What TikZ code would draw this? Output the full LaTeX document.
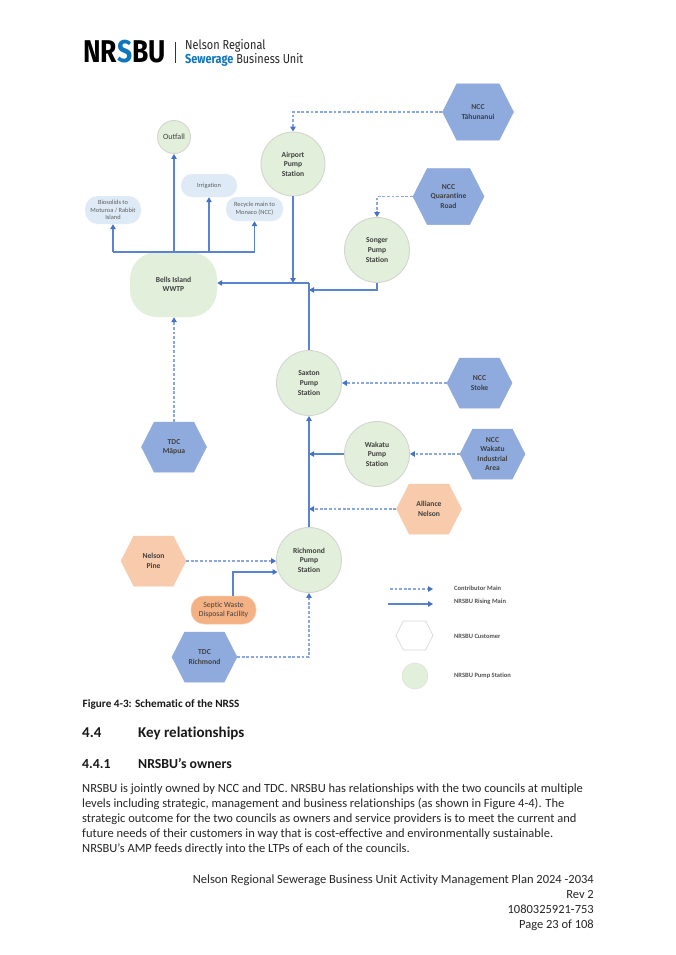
\documentclass[tikz,border=0pt]{standalone}
\usepackage{fontspec}
\setmainfont[Ligatures=NoCommon]{Carlito}
\newfontfamily\logofont{Fira Sans}
\usetikzlibrary{shapes.symbols,arrows.meta}
\definecolor{pipe}{HTML}{4472C4}
\definecolor{pipemid}{HTML}{5B84D0}
\definecolor{pipelt}{HTML}{8AA8E0}
\definecolor{stationfill}{HTML}{E2EFDA}
\definecolor{stationedge}{HTML}{D3D6D0}
\definecolor{councilfill}{HTML}{8FAADC}
\definecolor{orangefill}{HTML}{F8CBAD}
\definecolor{septicfill}{HTML}{F4B183}
\definecolor{paleblue}{HTML}{DEEBF7}
\definecolor{ink}{HTML}{404040}
\definecolor{brandblue}{HTML}{0F75BC}
\tikzset{
 x=1pt,y=-1pt,
 labelfont/.style={font=\fontsize{7.6}{9.6}\selectfont\bfseries,text=ink,align=center},
 station/.style={circle,draw=stationedge,line width=.9pt,fill=stationfill,minimum size=#1,inner sep=0pt,labelfont},
 hexa/.style args={#1/#2/#3}{signal,signal to=east and west,signal pointer angle=126,draw=#3,fill=#3,line width=.5pt,minimum width=#1,minimum height=#2,inner sep=0pt,labelfont},
 council/.style={hexa={65pt/50pt/councilfill}},
 bigcouncil/.style={hexa={71pt/56pt/councilfill}},
 trade/.style={hexa={65pt/50pt/orangefill}},
 pale/.style={rounded corners=11pt,fill=paleblue,inner sep=0pt,font=\fontsize{6.4}{7.7}\selectfont,text=ink!85,align=center},
 rising/.style={draw=pipemid,line width=1.05pt,-{Triangle[length=5pt,width=5.5pt,color=pipe,fill=pipe]}},
 risingplain/.style={draw=pipemid,line width=1.05pt},
 contrib/.style={draw=pipelt,line width=1.1pt,dash pattern=on 2.8pt off 1.8pt,-{Triangle[length=5pt,width=5.5pt,color=pipe,fill=pipe]}},
 legendtext/.style={anchor=west,font=\fontsize{6.5}{7.5}\selectfont\bfseries,text=ink!90,inner sep=0pt},
 bodyline/.style={anchor=base west,font=\fontsize{12.5}{15}\selectfont,text=black!85,inner sep=0pt},
 footline/.style={anchor=base east,font=\fontsize{12.5}{15}\selectfont,text=black!85,inner sep=0pt},
 capline/.style={anchor=base west,font=\fontsize{11.2}{13}\selectfont\bfseries,text=black!90,inner sep=0pt},
 headone/.style={anchor=base west,font=\fontsize{15}{18}\selectfont\bfseries,text=black!90,inner sep=0pt},
 headtwo/.style={anchor=base west,font=\fontsize{13.8}{16}\selectfont\bfseries,text=black!90,inner sep=0pt},
 logotext/.style={anchor=base west,inner sep=0pt,text=black!85,font=\logofont\fontsize{13}{14}\selectfont},
}
\begin{document}
\begin{tikzpicture}
\useasboundingbox[fill=white] (0,0) rectangle (675,955);
% logo
\node[anchor=base west,inner sep=0pt,font=\logofont\fontsize{31.5}{32}\selectfont\bfseries] (logo) at (83,63) {\scalebox{.84}[1]{NR\textcolor{brandblue}{S}BU}};
\coordinate (bartop) at (175,42);
\coordinate (barbot) at (175,63);
\draw[line width=.8pt,black!80] (bartop) -- (barbot);
\node[logotext] (logoa) at (185,50) {\scalebox{.84}[1]{Nelson Regional}};
\node[logotext] (logob) at (185,63.3) {\scalebox{.84}[1]{\textcolor{brandblue}{\bfseries Sewerage} Business Unit}};
% stations
\node[station=33pt,font=\fontsize{8}{9}\selectfont] (outfall) at (174,137) {Outfall};
\node[station=64pt] (airport) at (293,164) {Airport\\Pump\\Station};
\node[station=65pt] (songer) at (377,250) {Songer\\Pump\\Station};
\node[station=65pt] (saxton) at (309,383) {Saxton\\Pump\\Station};
\node[station=65pt] (wakatu) at (377,454) {Wakatu\\Pump\\Station};
\node[station=65pt] (richmond) at (309,560) {Richmond\\Pump\\Station};
\node[rounded corners=27pt,fill=stationfill,minimum width=87pt,minimum height=65pt,inner sep=0pt,labelfont] (bells) at (173.5,284.5) {Bells Island\\WWTP};
% destinations
\node[pale,minimum width=56pt,minimum height=23pt] (irrigation) at (209,185.5) {Irrigation};
\node[pale,minimum width=56pt,minimum height=28pt,rounded corners=13pt] (biosolids) at (113,210) {Biosolids to\\Moturoa / Rabbit\\Island};
\node[pale,minimum width=57pt,minimum height=24pt] (recycle) at (254.5,209) {Recycle main to\\Monaco (NCC)};
% contributors
\node[bigcouncil] (tahunanui) at (478,112) {NCC\\Tāhunanui};
\node[bigcouncil] (quarantine) at (448.5,196.5) {NCC\\Quarantine\\Road};
\node[council] (stoke) at (479.5,383) {NCC\\Stoke};
\node[council] (industrial) at (492.5,454) {NCC\\Wakatu\\Industrial\\Area};
\node[trade] (alliance) at (429,509) {Alliance\\Nelson};
\node[council] (mapua) at (174,447) {TDC\\Māpua};
\node[trade] (pine) at (153.5,561) {Nelson\\Pine};
\node[council] (tdcrich) at (204.5,657) {TDC\\Richmond};
\node[rounded corners=13pt,fill=septicfill,draw=orangefill,line width=.5pt,minimum width=65pt,minimum height=28pt,inner sep=0pt,font=\fontsize{7.7}{9.6}\selectfont,text=ink,align=center] (septic) at (223.5,610) {Septic Waste\\Disposal Facility};
% junctions
\coordinate (jmain) at (309,283);
\coordinate (jsonger) at (309,290);
\coordinate (jwakatu) at (309,454);
\coordinate (jalliance) at (309,509);
\coordinate (jseptic) at (233,572);
\coordinate (rseptic) at (277.5,572);
\coordinate (bioT) at (113,252);
\coordinate (recT) at (254.5,252);
% outflows from Bells
\draw[risingplain] (bioT) -- (recT);
\draw[rising] (bioT) -- (biosolids.south);
\draw[rising] (outfall.south |- bioT) -- (outfall.south);
\draw[rising] (irrigation.south |- bioT) -- (irrigation.south);
\draw[rising] (recT) -- (recycle.south);
% rising mains
\draw[rising] (jmain) -- (bells.east |- jmain);
\draw[rising] (airport.south) -- (airport.south |- jmain);
\draw[risingplain] (jmain) -- (saxton.north);
\draw[rising] (songer.south) |- (jsonger);
\draw[rising] (richmond.north) -- (saxton.south);
\draw[rising] (wakatu.west) -- (jwakatu);
\draw[rising] (septic.north -| jseptic) -- (jseptic) -- (rseptic);
% contributor mains
\draw[contrib] (tahunanui.west) -| (airport.north);
\draw[contrib] (quarantine.west) -| (songer.north);
\draw[contrib] (stoke.west) -- (saxton.east);
\draw[contrib] (industrial.west) -- (wakatu.east);
\draw[contrib] (alliance.west) -- (jalliance);
\draw[contrib] (mapua.north) -- (mapua.north |- bells.south);
\draw[contrib] (pine.east) -- (richmond.west |- pine.east);
\draw[contrib] (tdcrich.east) -| (richmond.south);
% legend
\coordinate (la) at (390,589); \coordinate (lb) at (433,589);
\coordinate (lc) at (388,604); \coordinate (ld) at (433,604);
\draw[contrib] (la) -- (lb);
\draw[rising] (lc) -- (ld);
\node[hexa={37pt/29pt/white},draw=black!15,line width=.7pt] (lhex) at (414.5,635.5) {};
\node[circle,fill=stationfill,draw=stationedge!70!stationfill,minimum size=26pt,inner sep=0pt] (lcirc) at (415,676) {};
\node[legendtext] (t1) at (454,588) {Contributor Main};
\node[legendtext] (t2) at (454,602) {NRSBU Rising Main};
\node[legendtext] (t3) at (454,636) {NRSBU Customer};
\node[legendtext] (t4) at (454,676) {NRSBU Pump Station};
% text
\node[capline] (cap) at (82.5,707.7) {Figure 4-3: Schematic of the NRSS};
\node[headone] (h1n) at (82,737.7) {4.4};
\node[headone] (h1) at (138,737.7) {Key relationships};
\node[headtwo] (h2n) at (82,768) {4.4.1};
\node[headtwo] (h2) at (138,768) {NRSBU’s owners};
\node[bodyline] (b1) at (82,792) {NRSBU is jointly owned by NCC and TDC. NRSBU has relationships with the two councils at multiple};
\node[bodyline] (b2) at (82,807) {levels including strategic, management and business relationships (as shown in Figure 4-4). The};
\node[bodyline] (b3) at (82,822) {strategic outcome for the two councils as owners and service providers is to meet the current and};
\node[bodyline] (b4) at (82,837) {future needs of their customers in way that is cost-effective and environmentally sustainable.};
\node[bodyline] (b5) at (82,852) {NRSBU’s AMP feeds directly into the LTPs of each of the councils.};
\node[footline] (f1) at (594,883) {Nelson Regional Sewerage Business Unit Activity Management Plan 2024 -2034};
\node[footline] (f2) at (594,898) {Rev 2};
\node[footline] (f3) at (594,913) {1080325921-753};
\node[footline] (f4) at (594,928) {Page 23 of 108};
\end{tikzpicture}
\end{document}
